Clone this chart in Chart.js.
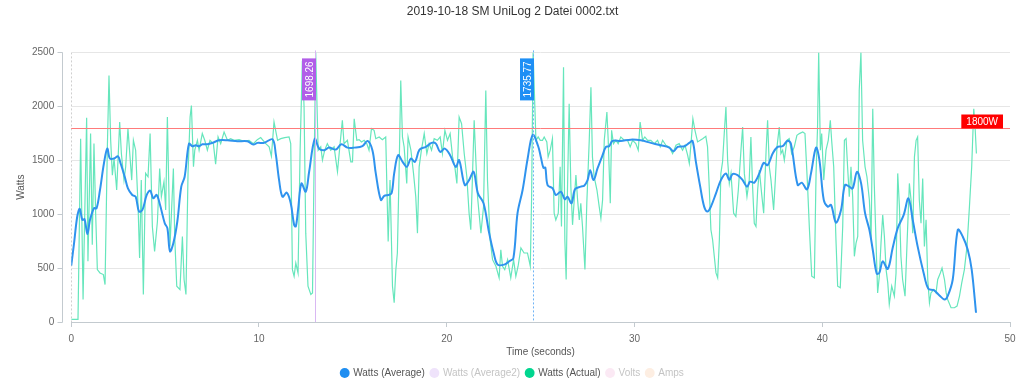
<!DOCTYPE html>
<html>
<head>
<meta charset="utf-8">
<script src="https://cdn.jsdelivr.net/npm/chart.js@4/dist/chart.umd.min.js"></script>
<style>
  html, body { margin: 0; padding: 0; background: #fff; }
  #wrap { width: 1024px; height: 386px; }
</style>
</head>
<body>
<div id="wrap"><canvas id="chart" width="1024" height="386"></canvas></div>
<script>
// Watts (Average) - smoothed series
const avgTime = [0, 0.15, 0.32, 0.45, 0.59, 0.71, 0.86, 1.0, 1.21, 1.35, 1.53, 1.74, 1.92, 2.06, 2.28, 2.49, 2.63, 2.85, 3.02, 3.25,
  3.43, 3.61, 3.79, 4.02, 4.2, 4.37, 4.55, 4.73, 4.98, 5.12, 5.26, 5.44, 5.65, 5.86, 6.04, 6.27, 6.45, 6.63, 6.81, 6.98,
  7.25, 7.52, 7.87, 8.32, 8.85, 9.38, 9.7, 9.92, 10.27, 10.72, 10.89, 11.07, 11.25, 11.48, 11.69, 11.87, 11.96, 12.08, 12.26, 12.49,
  12.67, 12.97, 13.2, 13.47, 13.73, 14.09, 14.39, 14.71, 15.07, 15.51, 15.78, 16.04, 16.22, 16.49, 16.67, 16.88, 17.06, 17.2, 17.41, 17.65,
  17.88, 18.09, 18.31, 18.55, 18.89, 19.19, 19.42, 19.65, 19.9, 20.18, 20.48, 20.66, 20.96, 21.19, 21.43, 21.66, 21.96, 22.26, 22.5, 22.71,
  23.06, 23.33, 23.55, 23.77, 24.04, 24.31, 24.58, 24.87, 25.01, 25.15, 25.25, 25.37, 25.64, 25.81, 26.08, 26.29, 26.43, 26.65, 26.83, 27.14,
  27.32, 27.5, 27.64, 27.82, 28.03, 28.3, 28.48, 28.65, 28.83, 29.27, 29.8, 30.33, 30.87, 31.4, 31.85, 32.08, 32.3, 32.65, 32.92, 33.09,
  33.27, 33.5, 33.71, 33.89, 34.07, 34.34, 34.6, 34.87, 35.05, 35.22, 35.49, 35.76, 35.99, 36.16, 36.38, 36.65, 36.88, 37.09, 37.36, 37.62,
  37.89, 38.15, 38.33, 38.69, 38.91, 39.19, 39.4, 39.67, 39.85, 40.08, 40.29, 40.47, 40.73, 41.0, 41.21, 41.44, 41.62, 41.85, 42.07, 42.28,
  42.51, 42.69, 42.9, 43.04, 43.22, 43.49, 43.75, 44.02, 44.34, 44.59, 44.82, 45.08, 45.4, 45.65, 45.94, 46.24, 46.51, 46.68, 46.95, 47.22,
  47.48, 47.75, 47.96, 48.19];
const avgWatts = [523, 732, 978, 1049, 947, 953, 815, 947, 1055, 1055, 1224, 1470, 1608, 1516, 1516, 1537, 1470, 1347, 1239, 1178,
  1162, 1024, 1039, 1178, 1218, 1147, 1178, 1085, 916, 870, 655, 732, 932, 1255, 1347, 1654, 1630, 1639, 1630, 1648,
  1648, 1661, 1685, 1685, 1676, 1676, 1645, 1661, 1661, 1694, 1562, 1316, 1162, 1199, 1101, 901, 886, 1039, 1285, 1208,
  1393, 1698, 1608, 1593, 1617, 1599, 1648, 1617, 1617, 1630, 1679, 1593, 1378, 1132, 1169, 1178, 1193, 1378, 1547, 1485,
  1439, 1516, 1485, 1599, 1624, 1661, 1654, 1577, 1608, 1547, 1439, 1501, 1270, 1316, 1393, 1193, 1101, 824, 640, 532,
  532, 563, 593, 1009, 1224, 1516, 1736, 1630, 1530, 1430, 1432, 1270, 1239, 1178, 1208, 1138, 1162, 1101, 1230, 1255,
  1264, 1316, 1408, 1316, 1424, 1547, 1624, 1630, 1679, 1679, 1691, 1685, 1661, 1639, 1617, 1584, 1624, 1630, 1661, 1679,
  1485, 1255, 1070, 1024, 1070, 1193, 1316, 1378, 1316, 1372, 1362, 1316, 1255, 1301, 1292, 1378, 1476, 1454, 1562, 1624,
  1630, 1680, 1654, 1270, 1292, 1230, 1378, 1617, 1501, 1132, 1070, 1085, 922, 1039, 1270, 1255, 1239, 1393, 1285, 1009,
  855, 670, 449, 455, 563, 492, 686, 870, 993, 1147, 947, 701, 455, 308, 295, 246, 209, 240, 394, 855,
  793, 670, 486, 86];

// Watts (Actual) - raw readings
const actualTime = [0, 0.36, 0.5, 0.63, 0.82, 0.89, 1.03, 1.12, 1.21, 1.3, 1.39, 1.53, 1.71, 1.8, 1.92, 2.01, 2.1, 2.19, 2.28, 2.42,
  2.58, 2.67, 2.81, 2.9, 3.02, 3.13, 3.22, 3.31, 3.43, 3.56, 3.64, 3.73, 3.84, 3.96, 4.09, 4.2, 4.32, 4.44, 4.59, 4.71,
  4.8, 4.94, 5.03, 5.12, 5.26, 5.44, 5.51, 5.62, 5.79, 5.92, 6.01, 6.11, 6.22, 6.33, 6.4, 6.51, 6.58, 6.72, 6.81, 6.98,
  7.11, 7.25, 7.39, 7.57, 7.69, 7.82, 7.96, 8.14, 8.32, 8.49, 8.67, 8.94, 9.2, 9.47, 9.7, 9.91, 10.09, 10.36, 10.54, 10.66,
  10.8, 10.99, 11.16, 11.37, 11.6, 11.69, 11.78, 11.87, 11.96, 12.08, 12.19, 12.31, 12.4, 12.49, 12.61, 12.76, 12.85, 12.93, 13.02, 13.15,
  13.29, 13.38, 13.5, 13.64, 13.82, 14.0, 14.18, 14.32, 14.44, 14.53, 14.71, 14.89, 14.98, 15.07, 15.21, 15.33, 15.46, 15.6, 15.74, 15.86,
  15.99, 16.13, 16.22, 16.4, 16.57, 16.75, 16.88, 16.98, 17.11, 17.2, 17.29, 17.37, 17.46, 17.55, 17.64, 17.73, 17.87, 17.94, 18.09, 18.23,
  18.35, 18.44, 18.53, 18.65, 18.8, 18.94, 19.06, 19.19, 19.33, 19.5, 19.65, 19.77, 19.9, 20.04, 20.18, 20.31, 20.43, 20.54, 20.66, 20.79,
  20.93, 21.07, 21.19, 21.28, 21.37, 21.46, 21.55, 21.64, 21.82, 21.96, 22.08, 22.17, 22.31, 22.44, 22.62, 22.79, 22.88, 22.97, 23.09, 23.24,
  23.41, 23.56, 23.68, 23.8, 23.95, 24.12, 24.3, 24.45, 24.52, 24.6, 24.75, 24.87, 24.98, 25.1, 25.19, 25.33, 25.4, 25.51, 25.63, 25.72,
  25.81, 25.94, 26.04, 26.11, 26.22, 26.29, 26.36, 26.43, 26.52, 26.61, 26.7, 26.79, 26.88, 26.97, 27.06, 27.14, 27.23, 27.36, 27.46, 27.59,
  27.68, 27.76, 27.85, 28.0, 28.12, 28.21, 28.3, 28.39, 28.53, 28.6, 28.71, 28.78, 28.88, 29.01, 29.13, 29.27, 29.45, 29.63, 29.77, 29.9,
  30.07, 30.2, 30.3, 30.43, 30.55, 30.7, 30.87, 31.05, 31.23, 31.37, 31.5, 31.67, 31.85, 32.03, 32.21, 32.38, 32.56, 32.69, 32.83, 32.92,
  33.01, 33.11, 33.22, 33.36, 33.5, 33.63, 33.8, 33.89, 33.98, 34.07, 34.16, 34.25, 34.34, 34.43, 34.52, 34.6, 34.69, 34.78, 34.87, 34.96,
  35.05, 35.14, 35.28, 35.4, 35.53, 35.67, 35.76, 35.85, 35.99, 36.11, 36.2, 36.29, 36.38, 36.47, 36.56, 36.65, 36.77, 36.88, 37.01, 37.09,
  37.18, 37.27, 37.41, 37.5, 37.59, 37.71, 37.8, 37.89, 37.98, 38.12, 38.24, 38.37, 38.51, 38.65, 38.78, 38.96, 39.08, 39.22, 39.31, 39.44,
  39.58, 39.67, 39.75, 39.81, 39.9, 39.97, 40.08, 40.2, 40.32, 40.43, 40.5, 40.61, 40.73, 40.82, 40.96, 41.09, 41.18, 41.27, 41.35, 41.44,
  41.53, 41.62, 41.71, 41.8, 41.89, 41.97, 42.06, 42.15, 42.28, 42.38, 42.51, 42.6, 42.69, 42.77, 42.86, 42.95, 43.04, 43.13, 43.22, 43.31,
  43.4, 43.49, 43.57, 43.7, 43.84, 43.93, 44.02, 44.11, 44.19, 44.28, 44.41, 44.51, 44.64, 44.73, 44.82, 44.91, 45.0, 45.08, 45.17, 45.26,
  45.35, 45.44, 45.53, 45.62, 45.71, 45.79, 45.94, 46.06, 46.15, 46.29, 46.38, 46.51, 46.6, 46.68, 46.86, 47.04, 47.18, 47.31, 47.43, 47.57,
  47.71, 47.84, 47.96, 48.07, 48.14, 48.21];
const actualWatts = [25, 25, 1700, 209, 1894, 563, 1747, 716, 1654, 1009, 486, 455, 440, 347, 1593, 2285, 1685, 1362, 1516, 1224,
  1854, 1562, 1316, 1439, 1793, 1531, 1316, 1685, 1593, 1070, 593, 1316, 255, 1378, 1347, 1747, 886, 655, 932, 1424,
  1162, 1301, 1039, 1900, 701, 1424, 793, 332, 301, 793, 394, 255, 1378, 1900, 2008, 1439, 1593, 1685, 1593, 1747,
  1685, 1593, 1685, 1654, 1464, 1716, 1654, 1762, 1685, 1700, 1685, 1691, 1676, 1685, 1654, 1691, 1710, 1654, 1624, 1537,
  1854, 1685, 1700, 1710, 1716, 1654, 486, 424, 547, 455, 1593, 2423, 1993, 824, 332, 255, 270, 1378, 2500, 1593,
  1624, 1501, 1593, 1654, 1593, 1624, 1393, 1654, 1870, 1654, 1685, 1485, 1485, 1885, 1685, 1691, 1670, 1685, 1654, 1593,
  1793, 1777, 1700, 1716, 1691, 1716, 747, 1316, 332, 178, 486, 640, 1378, 2239, 1716, 1624, 1285, 1716, 1593, 1378,
  1162, 824, 1439, 1593, 1747, 1562, 1654, 1593, 1700, 1685, 1716, 1562, 1777, 1685, 1747, 1531, 1439, 1285, 1900, 1839,
  1562, 1347, 1009, 855, 1347, 1870, 1501, 1162, 824, 1070, 2146, 1316, 763, 578, 517, 409, 670, 517, 486, 578,
  409, 578, 424, 517, 686, 640, 640, 517, 1162, 2500, 1685, 1716, 1685, 1685, 1716, 1670, 1531, 1593, 1700, 1009,
  947, 1009, 1439, 886, 2362, 763, 394, 1224, 2023, 1255, 901, 1132, 1362, 1132, 947, 1101, 886, 486, 1101, 1685,
  2177, 1531, 1347, 1224, 1070, 962, 1132, 1685, 1946, 1685, 1101, 1777, 1654, 1685, 1654, 1716, 1685, 1685, 1624, 1685,
  1654, 1593, 1854, 1685, 1716, 1685, 1685, 1654, 1685, 1624, 1685, 1639, 1624, 1562, 1639, 1654, 1593, 1639, 1547, 1470,
  1654, 1885, 1777, 1670, 1685, 1700, 1722, 1624, 1255, 855, 763, 609, 455, 409, 763, 1378, 1485, 1747, 1993, 1501,
  1285, 1378, 1009, 978, 1224, 1593, 1808, 1378, 1162, 1316, 1716, 1255, 916, 886, 1224, 1408, 1193, 1009, 1593, 1870,
  1439, 1316, 1039, 1316, 1624, 1808, 1562, 1593, 1501, 1685, 1700, 1562, 1624, 1731, 1747, 1762, 1747, 1255, 886, 424,
  409, 1378, 1808, 2500, 1593, 1747, 1316, 1593, 1685, 1870, 1685, 1439, 763, 332, 317, 886, 1685, 1700, 1439, 1162,
  1439, 1162, 609, 732, 793, 2146, 2500, 1685, 1439, 1347, 1132, 763, 1977, 1285, 763, 270, 424, 732, 993, 793,
  486, 363, 163, 332, 240, 455, 1378, 1070, 609, 394, 240, 701, 1285, 1132, 824, 1531, 1685, 1716, 1132, 916,
  1331, 701, 947, 394, 178, 270, 301, 270, 394, 455, 501, 394, 270, 209, 132, 132, 148, 240, 363, 486,
  701, 1070, 1439, 1977, 1808, 1562];

// markers (time, watts) and the limit line
const markerTime = [12.97, 24.58];
const markerWatts = [1698.26, 1735.77];
const markerColors = ['#b15ee8', '#1e8ff5'];
const markerLineColors = ['#d9b8f3', '#6fb3f5'];
const limitWatts = 1800;

// legend entries
const seriesNames = ['Watts (Average)', 'Watts (Average2)', 'Watts (Actual)', 'Volts', 'Amps'];
const seriesColors = ['#1f8ef1', '#efe3fb', '#00d68f', '#fbe9f4', '#fdeee2'];
const seriesActive = [true, false, true, false, false];

function toPoints(xs, ys) {
  return xs.map((t, i) => ({ x: t, y: ys[i] }));
}

// draws offset y axis, marker lines and labels
const markerPlugin = {
  id: 'markers',
  afterDatasetsDraw(chart) {
    const { ctx, chartArea: a, scales } = chart;
    const x = scales.x, y = scales.y;
    ctx.save();

    // y axis line a bit left of the plot
    const ax = Math.round(a.left) - 8.5;
    ctx.strokeStyle = '#c3cacf';
    ctx.lineWidth = 1;
    ctx.beginPath();
    ctx.moveTo(ax, a.top);
    ctx.lineTo(ax, a.bottom + 0.5);
    y.ticks.forEach(t => {
      const py = Math.round(y.getPixelForValue(t.value)) + 0.5;
      ctx.moveTo(ax - 5, py);
      ctx.lineTo(ax, py);
    });
    ctx.stroke();

    // 1800W limit line
    const ly = Math.round(y.getPixelForValue(limitWatts)) + 0.5;
    ctx.strokeStyle = '#ff7b7b';
    ctx.beginPath();
    ctx.moveTo(a.left, ly);
    ctx.lineTo(a.right, ly);
    ctx.stroke();

    // vertical markers
    markerTime.forEach((t, i) => {
      const px = Math.round(x.getPixelForValue(t)) + 0.5;
      ctx.strokeStyle = markerLineColors[i];
      ctx.setLineDash(i === 0 ? [] : [2, 2]);
      ctx.beginPath();
      ctx.moveTo(px, a.top - 2);
      ctx.lineTo(px, a.bottom);
      ctx.stroke();
      ctx.setLineDash([]);
    });

    ctx.font = '10px "Liberation Sans", Arial, sans-serif';
    ctx.textAlign = 'center';
    ctx.textBaseline = 'middle';

    markerTime.forEach((t, i) => {
      const px = Math.round(x.getPixelForValue(t));
      const bw = 14, bh = 42;
      const bx = px - bw + 1, by = a.top + 6;
      ctx.fillStyle = markerColors[i];
      ctx.fillRect(bx, by, bw, bh);
      ctx.save();
      ctx.translate(bx + bw / 2, by + bh / 2);
      ctx.rotate(-Math.PI / 2);
      ctx.fillStyle = '#fff';
      ctx.fillText(markerWatts[i].toFixed(2), 0, 1);
      ctx.restore();
    });

    // limit label
    const txt = limitWatts + 'W';
    const tw = ctx.measureText(txt).width;
    const rw = tw + 10, rh = 14;
    const rx = a.right - 7 - rw;
    ctx.fillStyle = '#ff0000';
    ctx.fillRect(rx, ly - rh, rw, rh);
    ctx.fillStyle = '#fff';
    ctx.fillText(txt, rx + rw / 2, ly - rh / 2 + 0.5);

    ctx.restore();
  }
};

const ctx = document.getElementById('chart').getContext('2d');
new Chart(ctx, {
  type: 'line',
  data: {
    datasets: [
      {
        label: seriesNames[0],
        data: toPoints(avgTime, avgWatts),
        borderColor: '#2f93ee',
        borderWidth: 2,
        pointRadius: 0,
        tension: 0.35,
        fill: false,
      },
      { label: seriesNames[1], data: [], borderColor: seriesColors[1], pointRadius: 0 },
      {
        label: seriesNames[2],
        data: toPoints(actualTime, actualWatts),
        borderColor: '#66e6bc',
        borderWidth: 1.2,
        pointRadius: 0,
        tension: 0,
        fill: false,
      },
      { label: seriesNames[3], data: [], borderColor: seriesColors[3], pointRadius: 0 },
      { label: seriesNames[4], data: [], borderColor: seriesColors[4], pointRadius: 0 },
    ],
  },
  options: {
    responsive: false,
    animation: false,
    devicePixelRatio: 1,
    layout: { padding: { left: 15, right: 14, top: 0, bottom: -2 } },
    font: { family: '"Liberation Sans", Arial, sans-serif' },
    plugins: {
      title: {
        display: true,
        text: '2019-10-18 SM UniLog 2 Datei 0002.txt',
        color: '#333',
        font: { size: 12, weight: 'normal' },
        padding: { top: 4, bottom: 34 },
      },
      legend: {
        position: 'bottom',
        labels: {
          usePointStyle: true,
          boxWidth: 7,
          boxHeight: 7,
          padding: 6,
          font: { size: 10 },
          generateLabels: () => seriesNames.map((name, i) => ({
            text: name,
            fillStyle: seriesColors[i],
            strokeStyle: seriesColors[i],
            lineWidth: 0,
            pointStyle: 'circle',
            fontColor: seriesActive[i] ? '#555' : '#c4c4c4',
            hidden: false,
            datasetIndex: i,
          })),
        },
      },
      tooltip: { enabled: false },
    },
    scales: {
      x: {
        type: 'linear',
        min: 0,
        max: 50,
        ticks: { stepSize: 10, color: '#666', font: { size: 10 }, padding: 6 },
        grid: {
          color: c => (c.tick && c.tick.value === 0 ? '#cfcfcf' : 'rgba(0,0,0,0)'),
          tickColor: '#c3cacf',
          tickLength: 5,
        },
        border: { display: true, color: '#c3cacf', dash: [2, 2] },
        title: { display: true, text: 'Time (seconds)', color: '#555', font: { size: 10 }, padding: { top: -5, bottom: 4 } },
      },
      y: {
        min: 0,
        max: 2500,
        ticks: { stepSize: 500, color: '#666', font: { size: 10 }, padding: 9, callback: v => String(v) },
        grid: { color: '#e6e6e6', tickLength: 8, tickColor: 'rgba(0,0,0,0)' },
        border: { display: false },
        title: { display: true, text: 'Watts', color: '#555', font: { size: 10 }, padding: { top: 0, bottom: -4 } },
      },
    },
  },
  plugins: [markerPlugin],
});
</script>
</body>
</html>
